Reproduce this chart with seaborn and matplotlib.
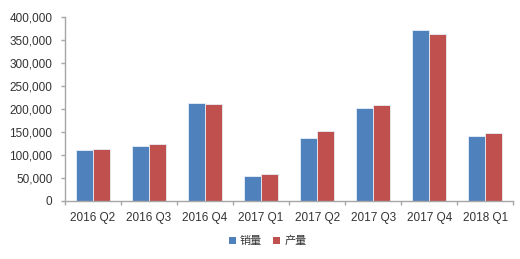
import matplotlib
matplotlib.use("Agg")
import matplotlib.pyplot as plt
import seaborn as sns
import pandas as pd
from matplotlib.ticker import FuncFormatter
from matplotlib.patches import Patch

categories = ["2016 Q2", "2016 Q3", "2016 Q4", "2017 Q1", "2017 Q2", "2017 Q3", "2017 Q4", "2018 Q1"]
sales = [111000, 119000, 214000, 55000, 138000, 203000, 373000, 141000]
production = [113000, 124000, 211000, 58000, 153000, 208000, 363000, 147000]
series_names = ["销量", "产量"]
colors = ["#4F81BD", "#C0504D"]

df = pd.DataFrame({
    "cat": categories * 2,
    "val": sales + production,
    "series": [series_names[0]] * len(categories) + [series_names[1]] * len(categories),
})

sns.set_theme(style="white")
plt.rcParams['font.family'] = ['Liberation Sans', 'Noto Sans CJK SC', 'DejaVu Sans']

fig = plt.figure(figsize=(5.2, 2.59), dpi=100)
ax = fig.add_axes([0.125, 0.224, 0.862, 0.71])
sns.barplot(data=df, x="cat", y="val", hue="series", palette=colors, width=0.6,
            ax=ax, edgecolor="#e8eef8", linewidth=0.6, legend=False, saturation=1)

ax.set_ylim(0, 400000)
ax.set_xlim(-0.5, len(categories) - 0.5)
ax.set_yticks(range(0, 400001, 50000))
ax.yaxis.set_major_formatter(FuncFormatter(lambda v, p: f"{int(v):,}"))
ax.set_xlabel("")
ax.set_ylabel("")
for s in ["top", "right"]:
    ax.spines[s].set_visible(False)
for s in ["left", "bottom"]:
    ax.spines[s].set_color("#a6a6a6")
    ax.spines[s].set_linewidth(1.0)

ax.set_xticks(range(len(categories)))
ax.set_xticklabels(categories)
ax.set_xticks([i + 0.5 for i in range(-1, len(categories))], minor=True)
ax.tick_params(axis="x", which="major", length=0, pad=8, labelsize=8.5, labelcolor="#333333")
ax.tick_params(axis="x", which="minor", length=3, color="#a6a6a6", width=1, direction="out", bottom=True)
ax.tick_params(axis="y", which="major", length=3, color="#a6a6a6", width=1, direction="out", left=True,
               labelsize=8.5, labelcolor="#333333", pad=6)

handles = [Patch(facecolor=c, edgecolor="none") for c in colors]
leg = fig.legend(handles, series_names, loc="center", bbox_to_anchor=(0.515, 0.07), ncol=2,
                 frameon=False, handlelength=0.6, handleheight=0.6,
                 handletextpad=0.4, columnspacing=1.0,
                 prop={"family": ["Noto Sans CJK SC", "DejaVu Sans"], "size": 8})
for t in leg.get_texts():
    t.set_color("#333333")

fig.savefig("out.png", dpi=100)
